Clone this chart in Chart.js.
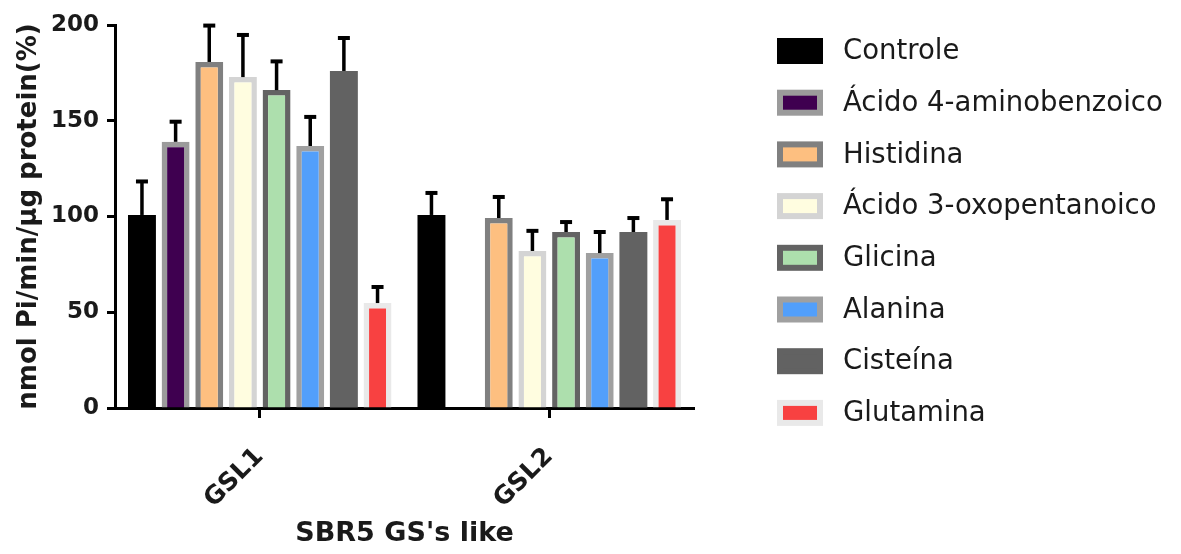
<!DOCTYPE html>
<html><head><meta charset="utf-8">
<script src="https://cdn.jsdelivr.net/npm/chart.js@4.4.1/dist/chart.umd.min.js"></script>
<style>html,body{margin:0;padding:0;background:#fff;}</style>
</head><body>
<canvas id="c" width="1181" height="554"></canvas>
<script>
// ---- data ----
const categories = ['GSL1', 'GSL2'];
const seriesNames = ['Controle', 'Ácido 4-aminobenzoico', 'Histidina', 'Ácido 3-oxopentanoico', 'Glicina', 'Alanina', 'Cisteína', 'Glutamina'];
const yTicks = [0, 50, 100, 150, 200];

const controle      = [100.8, 100.8];
const acido4amino   = [139, null];
const histidina     = [180.7, 99.2];
const acido3oxo     = [172.8, 82];
const glicina       = [166, 91.9];
const alanina       = [136.8, 80.9];
const cisteina      = [176, 91.9];
const glutamina     = [54.8, 98.2];

const controleErr    = [17.5, 11.5];
const acido4aminoErr = [10.5, null];
const histidinaErr   = [19, 11];
const acido3oxoErr   = [22, 10.5];
const glicinaErr     = [15, 5.2];
const alaninaErr     = [15.2, 11];
const cisteinaErr    = [17.2, 7.3];
const glutaminaErr   = [8.4, 10.8];

const values = [controle, acido4amino, histidina, acido3oxo, glicina, alanina, cisteina, glutamina];
const errors = [controleErr, acido4aminoErr, histidinaErr, acido3oxoErr, glicinaErr, alaninaErr, cisteinaErr, glutaminaErr];

// ---- styles ----
const fills   = ['#000000', '#3f0050', '#fdbf80', '#fffde0', '#addfad', '#529ffb', '#626262', '#f84141'];
const borders = ['#000000', '#9b9b9b', '#808080', '#d4d4d4', '#636363', '#a0a0a0', '#626262', '#e9e9e9'];

const FONT = '"DejaVu Sans", "Liberation Sans", Arial, sans-serif';
const CHART_LEFT = 115, CHART_BOTTOM = 408;

const errorBarPlugin = {
  id: 'errorBars',
  afterDatasetsDraw(chart) {
    const ctx = chart.ctx, ys = chart.scales.y;
    ctx.save();
    ctx.strokeStyle = '#000';
    chart.data.datasets.forEach((ds, di) => {
      const meta = chart.getDatasetMeta(di);
      meta.data.forEach((bar, j) => {
        const v = ds.data[j], e = ds.errors[j];
        if (v == null || e == null) return;
        const y0 = ys.getPixelForValue(v), y1 = ys.getPixelForValue(v + e);
        ctx.lineWidth = 3.5;
        ctx.beginPath(); ctx.moveTo(bar.x, y0); ctx.lineTo(bar.x, y1); ctx.stroke();
        ctx.lineWidth = 4;
        ctx.beginPath(); ctx.moveTo(bar.x - 6, y1); ctx.lineTo(bar.x + 6, y1); ctx.stroke();
      });
    });
    ctx.restore();
  }
};

const sideLegend = {
  id: 'sideLegend',
  afterDraw(chart) {
    const ctx = chart.ctx;
    ctx.save();
    chart.data.datasets.forEach((ds, i) => {
      const cy = 51 + i * 51.7, x = 777, w = 46, h = 26, b = 6;
      ctx.fillStyle = ds.borderColor; ctx.fillRect(x, cy - h / 2, w, h);
      ctx.fillStyle = ds.backgroundColor; ctx.fillRect(x + b, cy - h / 2 + b, w - 2 * b, h - 2 * b);
      ctx.fillStyle = '#1a1a1a';
      ctx.font = '27.5px ' + FONT;
      ctx.textBaseline = 'middle'; ctx.textAlign = 'left';
      ctx.fillText(ds.label, 843, cy + 1);
    });
    ctx.restore();
  }
};

new Chart(document.getElementById('c'), {
  type: 'bar',
  data: {
    labels: categories,
    datasets: seriesNames.map((name, i) => ({
      label: name,
      data: values[i],
      errors: errors[i],
      backgroundColor: fills[i],
      borderColor: borders[i],
      borderWidth: (i === 0 || i === 6) ? 0 : 5.5,
      borderSkipped: 'bottom',
      categoryPercentage: 0.93,
      barPercentage: 0.83
    }))
  },
  options: {
    responsive: false,
    animation: false,
    layout: { padding: { left: 0, top: 25, right: 487, bottom: 0 } },
    plugins: { legend: { display: false }, tooltip: { enabled: false } },
    scales: {
      x: {
        offset: true,
        afterFit(s) { s.height = 554 - CHART_BOTTOM; },
        grid: { offset: false, drawOnChartArea: false, drawTicks: true, tickLength: 10, tickWidth: 3, tickColor: '#000' },
        border: { display: true, width: 3, color: '#000' },
        ticks: { color: '#1a1a1a', font: { family: FONT, size: 25, weight: 'bold' }, maxRotation: 45, minRotation: 45, padding: 24 },
        title: { display: true, text: "SBR5 GS's like", color: '#1a1a1a', font: { family: FONT, size: 27, weight: 'bold' }, padding: { top: 0, bottom: 4 } }
      },
      y: {
        min: 0, max: 200,
        afterFit(s) { s.width = CHART_LEFT; },
        afterBuildTicks(s) { s.ticks = yTicks.map(v => ({ value: v })); },
        grid: { drawOnChartArea: false, drawTicks: true, tickLength: 8, tickWidth: 3, tickColor: '#000' },
        border: { display: true, width: 3, color: '#000' },
        ticks: { color: '#1a1a1a', font: { family: FONT, size: 23, weight: 'bold' }, padding: 8 },
        title: { display: true, text: 'nmol Pi/min/µg protein(%)', color: '#1a1a1a', font: { family: FONT, size: 26, weight: 'bold' }, padding: { top: 14, bottom: 0 } }
      }
    }
  },
  plugins: [errorBarPlugin, sideLegend]
});
</script>
</body></html>
